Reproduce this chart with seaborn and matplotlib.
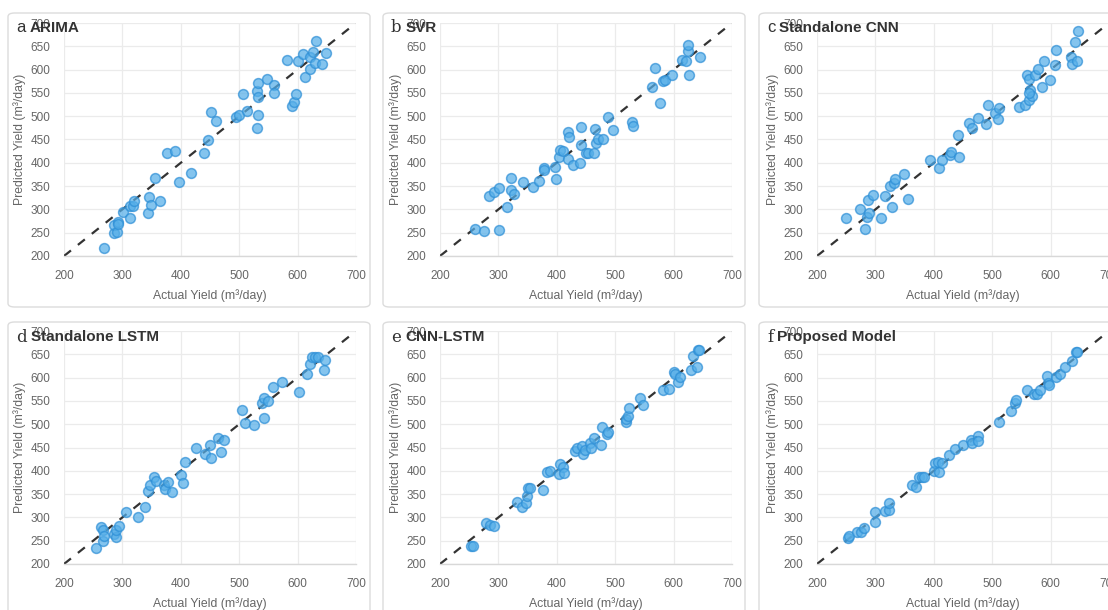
import numpy as np
import pandas as pd
import seaborn as sns
import matplotlib.pyplot as plt
from matplotlib.patches import FancyBboxPatch

# values
arima_actual = [268.6, 285.7, 286, 290, 293, 293, 301, 312.6, 312.6, 318, 320.6, 344, 345, 349.7,
                356.6, 365, 377, 389.7, 397, 417.7, 439.4, 446, 451, 460, 494, 499, 505.7, 513,
                529.7, 532, 531, 533, 533, 548, 560, 560, 582, 591, 594, 597, 600, 609, 612, 621,
                621, 627, 630, 631, 641, 648.6]
arima_pred = [216.4, 248.6, 265.7, 251, 274, 268, 293.6, 281, 308, 308, 318.6, 293, 327, 309,
              367, 318, 420.7, 425, 358.6, 379, 422, 448, 509, 489, 499, 503, 547, 511,
              475, 503, 554, 570.7, 540.7, 580.7, 568, 550.7, 621, 521, 530, 548.6, 618.6, 633, 585, 602,
              628, 637, 613.6, 661, 611, 635.7]

svr_actual = [259.7, 275.6, 300.6, 284, 292, 300.6, 315, 321, 321.6, 326.7, 341.5, 359.7, 368.8,
              378, 378, 398, 397.7, 404, 405.7, 410.8, 419, 419, 420.5, 428, 439.5, 441.5, 442,
              450, 452.8, 464, 466, 467, 469.9, 479, 487.5, 497, 529, 531, 563, 568, 576.7, 582,
              585, 597.7, 613.6, 622, 623.9, 625, 627, 645]
svr_pred = [257, 253.6, 255, 329, 338, 345, 306, 368, 340.7, 333, 359, 348.6, 361.4,
            388, 384, 365.7, 390.7, 413, 428, 425, 409, 466, 456, 395, 400, 476, 438,
            422, 422, 420, 472, 443, 450.7, 451, 499, 471, 487, 478.6, 563.6, 604, 528.6, 575.7,
            578, 589, 620, 618, 639, 652, 588.6, 626]

cnn_actual = [250, 273.9, 282.4, 286.4, 287, 289.8, 295.5, 310, 316.5, 324.4, 328.4, 331.8, 333.5,
              349.4, 356, 393.8, 409.7, 414.8, 428.4, 429, 442, 443, 460, 465.9, 474.9, 489, 493,
              504.5, 510, 511, 546.6, 557, 560, 562.5, 562.5, 565, 567.6, 562.5, 572.7, 578.4,
              588.6, 586, 598.9, 607, 610, 634.7, 636, 642, 646, 647]
cnn_pred = [280.7, 300, 257.9, 283.6, 321, 293, 330.7, 281, 329, 351, 305, 355.7, 365,
            377, 323, 405, 389, 406, 417, 423, 460.7, 413, 485.7, 475, 496, 483.6, 525,
            506, 494, 517.9, 520, 523.6, 589, 579, 535.7, 555.7, 544, 550, 588.6, 602,
            618.6, 562, 578.6, 610.7, 642, 626, 612, 660, 618.6, 683.6]

lstm_actual = [255.4, 263.4, 266.9, 266.9, 269, 286.3, 288.6, 289.7, 295, 306, 326, 338, 344,
               346.9, 353.7, 357, 372, 373, 377.7, 385, 400.6, 403, 406.9, 425.7, 441.7, 450.3,
               452, 463.4, 469, 474, 504, 509.7, 525, 539, 542, 543, 549, 558, 574, 601.7, 616.6,
               620.9, 625, 629.7, 635.4, 644.6, 646.9]
lstm_pred = [234.3, 279, 250, 273.6, 260.7, 264.3, 257, 273.6, 280.7, 312, 300, 322.9, 356.4,
             369.3, 385.7, 378.6, 370, 361.4, 375.7, 353.6, 391.4, 372.9, 419.3, 450, 437, 456.4,
             427, 470.7, 440.7, 466, 531.4, 502, 499, 545.7, 557, 514, 550.7, 580.7, 591.4, 570, 608.6,
             629, 643.6, 643.6, 643.6, 616.4, 638.6]

cnnlstm_actual = [253.4, 255.7, 279.5, 286, 292, 332.4, 339.8, 346.6, 349.4, 350, 354.5, 375.6,
                  382.4, 388.6, 404, 406.2, 410.8, 413, 431.8, 434.7, 442.6, 444.9, 448, 456,
                  458.5, 464, 474.9, 478, 485.8, 486.9, 518.8, 519.3, 522.7, 523.9, 542.6, 547,
                  582, 591.5, 600.6, 602, 606.8, 610.8, 630, 633.5, 640.3, 641.5, 643.8]
cnnlstm_pred = [239.3, 238.6, 287, 283.6, 280.7, 332, 322.9, 331.4, 345, 363, 363, 358.6,
                397, 400, 393.6, 414, 407.9, 395, 442.9, 450, 453.6, 437, 444, 459,
                450, 470, 456.4, 493.6, 478.6, 483.6, 504.3, 511.4, 517, 535.7, 555.7, 541.4,
                572.9, 575.7, 612, 607, 591.4, 600.7, 615.7, 645.7, 622.9, 659.3, 659.3]

proposed_actual = [252.8, 254.5, 269.3, 276, 280, 298.9, 299.4, 315.9, 322.7, 323.8, 362.5, 369.3,
                   375, 379, 383, 400, 402.8, 408, 409, 413.6, 426, 436.9, 449.9, 464, 465.9,
                   475, 476, 511.9, 531.8, 538.6, 541.5, 560, 572, 576, 581.8, 594.3, 595.5,
                   596.6, 610, 615.9, 623.9, 636, 643, 644.9]
proposed_pred = [255.7, 260.7, 267.9, 267.9, 277, 290, 312, 312.9, 316.4, 330.7, 368.6, 365,
                 385.7, 385.7, 387, 400, 415.7, 419, 397.9, 416.4, 432.9, 446.4, 455, 467, 460.7,
                 475.7, 464.3, 505, 529.3, 545, 552.9, 573.6, 565, 565, 574.3, 602.9, 587.9,
                 583.6, 602, 607, 623.6, 635, 655, 655]

letters = ["a", "b", "c", "d", "e", "f"]
models = ["ARIMA", "SVR", "Standalone CNN", "Standalone LSTM", "CNN-LSTM", "Proposed Model"]
actuals = [arima_actual, svr_actual, cnn_actual, lstm_actual, cnnlstm_actual, proposed_actual]
preds = [arima_pred, svr_pred, cnn_pred, lstm_pred, cnnlstm_pred, proposed_pred]
serif_letter = [False, True, False, True, True, True]

sns.set_theme(style="whitegrid")
plt.rcParams['font.family'] = ['Liberation Sans', 'DejaVu Sans']

fig = plt.figure(figsize=(11.08, 6.10), dpi=100)
W, H = 1108, 610

lefts = [64, 440, 817]
bottoms = [256, 564]
aw, ah = 292, 233
box_lefts = [8, 383, 759]
box_tops = [13, 322]

for i in range(6):
    r, c = divmod(i, 3)
    # panel frame behind the axes
    bx, by = box_lefts[c], box_tops[r]
    box = FancyBboxPatch((bx / W, 1 - (by + 294) / H), 362 / W, 294 / H,
                         boxstyle="round,pad=0,rounding_size=0.006",
                         transform=fig.transFigure, facecolor="white",
                         edgecolor="#dcdcdc", linewidth=1.0, zorder=-5)
    fig.patches.append(box)

    ax = fig.add_axes([lefts[c] / W, 1 - bottoms[r] / H, aw / W, ah / H])
    ax.set_zorder(1)
    ax.set_facecolor("none")
    df = pd.DataFrame({"actual": actuals[i], "pred": preds[i]})
    ax.plot([200, 700], [200, 700], ls=(0, (4, 4)), color="#333333", lw=1.6, zorder=2)
    sns.scatterplot(data=df, x="actual", y="pred", ax=ax, s=50, color="#55aee8", alpha=0.72,
                    edgecolor="#2e8fd6", linewidth=1.1, zorder=3)
    ax.set_xlim(200, 700)
    ax.set_ylim(200, 700)
    ax.set_xticks(range(200, 701, 100))
    ax.set_yticks(range(200, 701, 50))
    ax.grid(True, color="#ebebeb", lw=0.9)
    for s in ["top", "right", "left"]:
        ax.spines[s].set_visible(False)
    ax.spines["bottom"].set_color("#d8d8d8")
    ax.spines["bottom"].set_linewidth(1.0)
    ax.tick_params(axis="both", colors="#ebebeb", labelcolor="#666666", labelsize=8.5,
                   length=5, width=0.9, pad=5)
    ax.set_xlabel("Actual Yield (m³/day)", color="#666666", fontsize=8.8, labelpad=5)
    ax.set_ylabel("Predicted Yield (m³/day)", color="#666666", fontsize=8.8, labelpad=3)

    # panel title: letter + bold model name
    tx = (box_lefts[c] + 8) / W
    ty = 1 - (box_tops[r] + 15) / H
    lf = ['DejaVu Serif'] if serif_letter[i] else ['Liberation Sans']
    t = fig.text(tx, ty, letters[i], family=lf, fontsize=12, color="#333333",
                 va="center", ha="left", zorder=5)
    fig.canvas.draw()
    bb = t.get_window_extent()
    fig.text((bb.x1 + 4) / W, ty, models[i], fontsize=11, fontweight="bold",
             color="#333333", va="center", ha="left", zorder=5)

fig.savefig("out.png", dpi=100)
